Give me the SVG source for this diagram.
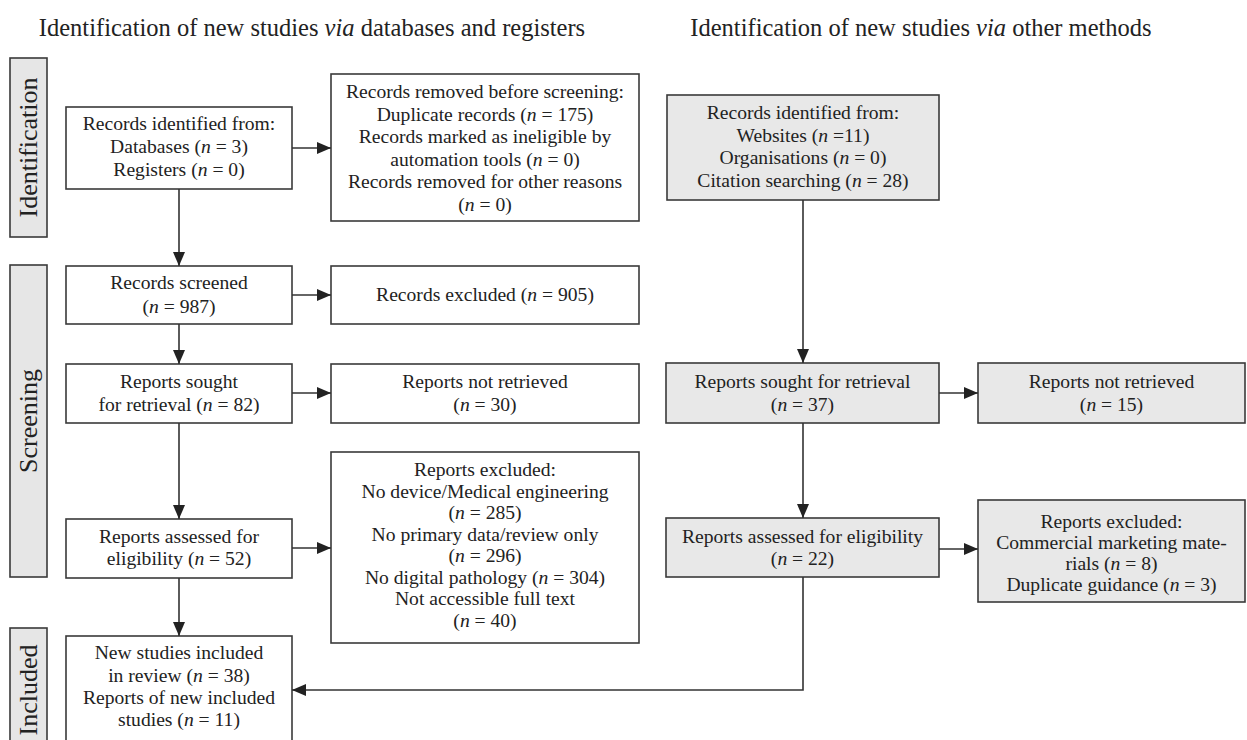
<svg xmlns="http://www.w3.org/2000/svg" width="1247" height="740" viewBox="0 0 1247 740">
<style>
text{font-family:"Liberation Serif","Times New Roman",serif;fill:#222;}
.t{font-size:19.6px;text-anchor:middle;}
.h{font-size:24.5px;text-anchor:middle;}
.s{font-size:26px;text-anchor:middle;}
.box{fill:#fff;stroke:#3a3a3a;stroke-width:1.6;}
.gbox{fill:#e8e8e8;stroke:#3a3a3a;stroke-width:1.6;}
.bar{fill:#e6e6e6;stroke:#3a3a3a;stroke-width:1.6;}
.c{fill:none;stroke:#333;stroke-width:1.6;}
.i{font-style:italic;}
</style>
<defs>
<marker id="ah" markerUnits="userSpaceOnUse" markerWidth="15" markerHeight="12" refX="14" refY="6" orient="auto">
<path d="M0,0 L14,6 L0,12 z" fill="#222"/>
</marker>
</defs>
<rect width="1247" height="740" fill="#fff"/>
<g id="headers">
<text class="h" x="312" y="36">Identification of new studies <tspan class="i">via</tspan> databases and registers</text>
<text class="h" x="921" y="36">Identification of new studies <tspan class="i">via</tspan> other methods</text>
</g>
<g id="bar-identification">
<rect class="bar" x="10" y="58" width="37" height="179"/>
<text class="s" transform="translate(37,147.5) rotate(-90)">Identification</text>
</g>
<g id="bar-screening">
<rect class="bar" x="10" y="265" width="37" height="312"/>
<text class="s" transform="translate(37,421) rotate(-90)">Screening</text>
</g>
<g id="bar-included">
<rect class="bar" x="10" y="628" width="37" height="130"/>
<text class="s" transform="translate(37,690) rotate(-90)">Included</text>
</g>
<g id="records-identified">
<rect class="box" x="66" y="107" width="226" height="82"/>
<text class="t" x="179" y="130">Records identified from:</text>
<text class="t" x="179" y="153">Databases (<tspan class="i">n</tspan> = 3)</text>
<text class="t" x="179" y="176">Registers (<tspan class="i">n</tspan> = 0)</text>
</g>
<g id="records-removed">
<rect class="box" x="331" y="74" width="308" height="147"/>
<text class="t" x="485" y="98">Records removed before screening:</text>
<text class="t" x="485" y="120.5">Duplicate records (<tspan class="i">n</tspan> = 175)</text>
<text class="t" x="485" y="143">Records marked as ineligible by</text>
<text class="t" x="485" y="165.5">automation tools (<tspan class="i">n</tspan> = 0)</text>
<text class="t" x="485" y="188">Records removed for other reasons</text>
<text class="t" x="485" y="210.5">(<tspan class="i">n</tspan> = 0)</text>
</g>
<g id="records-identified-other">
<rect class="gbox" x="667" y="95" width="272" height="105"/>
<text class="t" x="803" y="119">Records identified from:</text>
<text class="t" x="803" y="142">Websites (<tspan class="i">n</tspan> =11)</text>
<text class="t" x="803" y="164">Organisations (<tspan class="i">n</tspan> = 0)</text>
<text class="t" x="803" y="187">Citation searching (<tspan class="i">n</tspan> = 28)</text>
</g>
<g id="records-screened">
<rect class="box" x="66" y="266" width="226" height="58"/>
<text class="t" x="179" y="289">Records screened</text>
<text class="t" x="179" y="313">(<tspan class="i">n</tspan> = 987)</text>
</g>
<g id="records-excluded">
<rect class="box" x="331" y="266" width="308" height="58"/>
<text class="t" x="485" y="301">Records excluded (<tspan class="i">n</tspan> = 905)</text>
</g>
<g id="reports-sought">
<rect class="box" x="66" y="364" width="226" height="59"/>
<text class="t" x="179" y="388">Reports sought</text>
<text class="t" x="179" y="411">for retrieval (<tspan class="i">n</tspan> = 82)</text>
</g>
<g id="reports-not-retrieved">
<rect class="box" x="331" y="364" width="308" height="59"/>
<text class="t" x="485" y="388">Reports not retrieved</text>
<text class="t" x="485" y="411">(<tspan class="i">n</tspan> = 30)</text>
</g>
<g id="reports-sought-other">
<rect class="gbox" x="666" y="363" width="273" height="60"/>
<text class="t" x="802.5" y="388">Reports sought for retrieval</text>
<text class="t" x="802.5" y="411">(<tspan class="i">n</tspan> = 37)</text>
</g>
<g id="reports-not-retrieved-other">
<rect class="gbox" x="978" y="363" width="267" height="60"/>
<text class="t" x="1111.5" y="388">Reports not retrieved</text>
<text class="t" x="1111.5" y="411">(<tspan class="i">n</tspan> = 15)</text>
</g>
<g id="reports-assessed">
<rect class="box" x="66" y="519" width="226" height="59"/>
<text class="t" x="179" y="543">Reports assessed for</text>
<text class="t" x="179" y="565">eligibility (<tspan class="i">n</tspan> = 52)</text>
</g>
<g id="reports-excluded">
<rect class="box" x="331" y="452" width="308" height="191"/>
<text class="t" x="485" y="476">Reports excluded:</text>
<text class="t" x="485" y="497.5">No device/Medical engineering</text>
<text class="t" x="485" y="519">(<tspan class="i">n</tspan> = 285)</text>
<text class="t" x="485" y="540.5">No primary data/review only</text>
<text class="t" x="485" y="562">(<tspan class="i">n</tspan> = 296)</text>
<text class="t" x="485" y="583.5">No digital pathology (<tspan class="i">n</tspan> = 304)</text>
<text class="t" x="485" y="605">Not accessible full text</text>
<text class="t" x="485" y="626.5">(<tspan class="i">n</tspan> = 40)</text>
</g>
<g id="reports-assessed-other">
<rect class="gbox" x="666" y="518" width="273" height="59"/>
<text class="t" x="802.5" y="543">Reports assessed for eligibility</text>
<text class="t" x="802.5" y="565">(<tspan class="i">n</tspan> = 22)</text>
</g>
<g id="reports-excluded-other">
<rect class="gbox" x="978" y="500" width="267" height="102"/>
<text class="t" x="1111.5" y="528">Reports excluded:</text>
<text class="t" x="1111.5" y="549">Commercial marketing mate-</text>
<text class="t" x="1111.5" y="570">rials (<tspan class="i">n</tspan> = 8)</text>
<text class="t" x="1111.5" y="591">Duplicate guidance (<tspan class="i">n</tspan> = 3)</text>
</g>
<g id="new-studies-included">
<rect class="box" x="66" y="636" width="226" height="112"/>
<text class="t" x="179" y="659">New studies included</text>
<text class="t" x="179" y="682">in review (<tspan class="i">n</tspan> = 38)</text>
<text class="t" x="179" y="704">Reports of new included</text>
<text class="t" x="179" y="726">studies (<tspan class="i">n</tspan> = 11)</text>
</g>
<g id="connectors">
<line class="c" x1="179" y1="189" x2="179" y2="266" marker-end="url(#ah)"/>
<line class="c" x1="292" y1="148" x2="331" y2="148" marker-end="url(#ah)"/>
<line class="c" x1="292" y1="295" x2="331" y2="295" marker-end="url(#ah)"/>
<line class="c" x1="179" y1="324" x2="179" y2="364" marker-end="url(#ah)"/>
<line class="c" x1="292" y1="393" x2="331" y2="393" marker-end="url(#ah)"/>
<line class="c" x1="179" y1="423" x2="179" y2="519" marker-end="url(#ah)"/>
<line class="c" x1="292" y1="548" x2="331" y2="548" marker-end="url(#ah)"/>
<line class="c" x1="179" y1="578" x2="179" y2="636" marker-end="url(#ah)"/>
<line class="c" x1="803" y1="200" x2="803" y2="363" marker-end="url(#ah)"/>
<line class="c" x1="939" y1="393" x2="978" y2="393" marker-end="url(#ah)"/>
<line class="c" x1="803" y1="423" x2="803" y2="518" marker-end="url(#ah)"/>
<line class="c" x1="939" y1="549" x2="978" y2="549" marker-end="url(#ah)"/>
<polyline class="c" points="803,577 803,690 292,690" marker-end="url(#ah)"/>
</g>
</svg>
